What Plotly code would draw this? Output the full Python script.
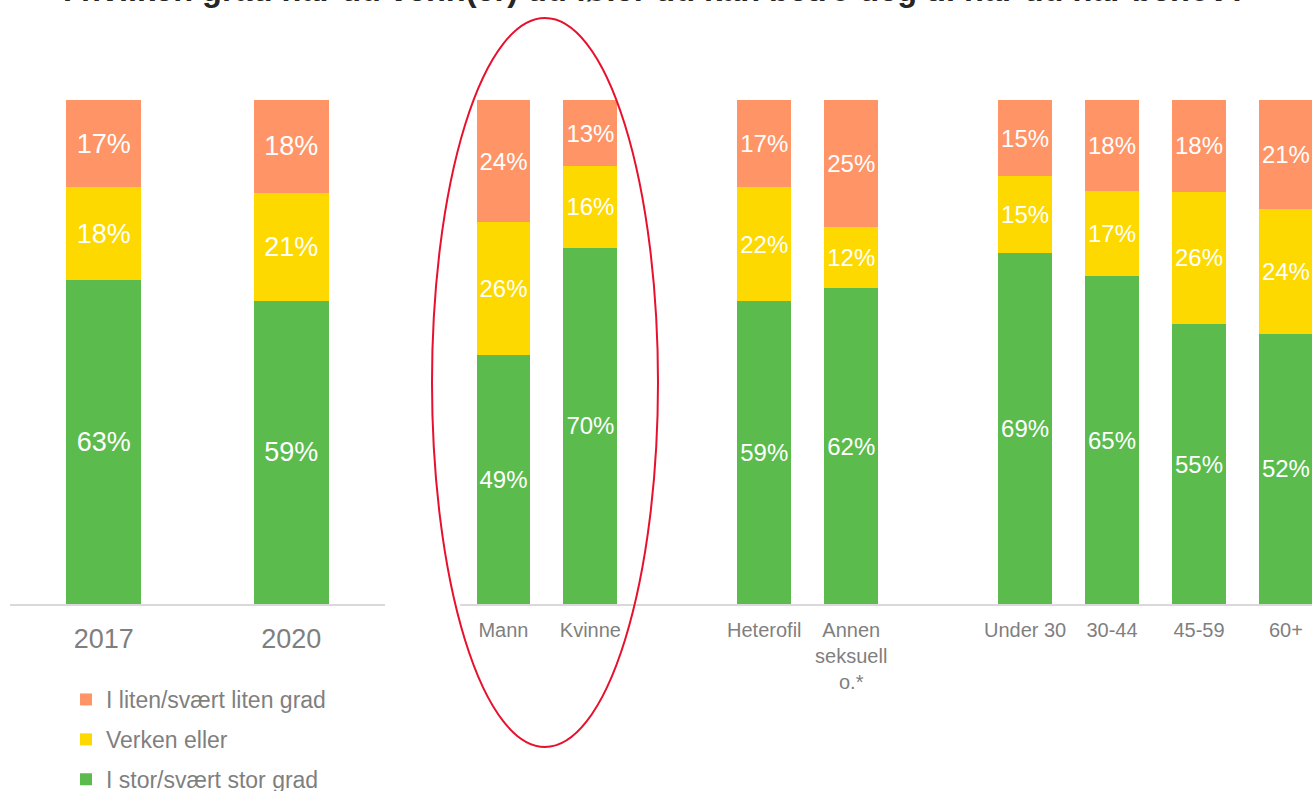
import plotly.graph_objects as go

# ---- data ----
title_text = "I hvilken grad har du venn(er) du føler du kan betro deg til når du har behov?"
series_names = ["I stor/svært stor grad", "Verken eller", "I liten/svært liten grad"]
series_colors = ["#5BBB4D", "#FDD900", "#FF9466"]
legend_ranks = [3, 2, 1]

years = ["2017", "2020"]
years_stor = [63, 59]
years_verken = [18, 21]
years_liten = [17, 18]

groups = ["Mann", "Kvinne", "Heterofil", "Annen<br>seksuell<br>o.*",
          "Under 30", "30-44", "45-59", "60+"]
groups_stor = [49, 70, 59, 62, 69, 65, 55, 52]
groups_verken = [26, 16, 22, 12, 15, 17, 26, 24]
groups_liten = [24, 13, 17, 25, 15, 18, 18, 21]

# category order for second panel, with empty spacer slots between groups
spacer1 = "gap1"
spacer2 = "gap2"
groups_order = ["Mann", "Kvinne", spacer1, "Heterofil", "Annen<br>seksuell<br>o.*",
                spacer2, "Under 30", "30-44", "45-59", "60+"]

W, H = 1312, 791
TOP, BOTTOM = 100, 604
PH = BOTTOM - TOP

fig = go.Figure()

panel1 = [years_stor, years_verken, years_liten]
panel2 = [groups_stor, groups_verken, groups_liten]

for i, name in enumerate(series_names):
    fig.add_trace(go.Bar(
        x=years, y=panel1[i], name=name, legendgroup=name, showlegend=True,
        legendrank=legend_ranks[i],
        marker=dict(color=series_colors[i], line=dict(width=0)),
        width=0.4, xaxis="x", yaxis="y",
        text=[f"{v}%" for v in panel1[i]], textposition="inside",
        insidetextanchor="middle", textangle=0, constraintext="none",
        textfont=dict(color="white", size=27, family="Liberation Sans"),
        hoverinfo="skip",
    ))
    fig.add_trace(go.Bar(
        x=groups, y=panel2[i], name=name, legendgroup=name, showlegend=False,
        legendrank=legend_ranks[i],
        marker=dict(color=series_colors[i], line=dict(width=0)),
        width=0.62, xaxis="x2", yaxis="y",
        text=[f"{v}%" for v in panel2[i]], textposition="inside",
        insidetextanchor="middle", textangle=0, constraintext="none",
        textfont=dict(color="white", size=24, family="Liberation Sans"),
        hoverinfo="skip",
    ))

fig.update_layout(
    width=W, height=H,
    margin=dict(l=0, r=0, t=TOP, b=H - BOTTOM, pad=0, autoexpand=False),
    paper_bgcolor="white", plot_bgcolor="white",
    barmode="stack", barnorm="percent",
    font=dict(family="Liberation Sans", color="#7F7F7F"),
    xaxis=dict(
        domain=[10 / W, 385 / W], type="category", categoryorder="array",
        categoryarray=years, showline=True, linecolor="#D9D9D9", linewidth=1.5,
        showgrid=False, zeroline=False, ticks="", ticklabelstandoff=10,
        tickfont=dict(size=27, color="#7F7F7F"), anchor="y", fixedrange=True,
    ),
    xaxis2=dict(
        domain=[460 / W, 1.0], type="category", categoryorder="array",
        categoryarray=groups_order, range=[-0.5, 9.3],
        tickmode="array", tickvals=groups, ticktext=groups,
        showline=True, linecolor="#D9D9D9", linewidth=1.5,
        showgrid=False, zeroline=False, ticks="", ticklabelstandoff=7,
        tickfont=dict(size=20, color="#7F7F7F"), anchor="y", fixedrange=True,
    ),
    yaxis=dict(range=[0, 100], visible=False, fixedrange=True, domain=[0, 1]),
    legend=dict(
        orientation="v", traceorder="grouped", tracegroupgap=7,
        x=66 / W, xanchor="left", y=-(678 - BOTTOM) / PH, yanchor="top",
        font=dict(size=23, color="#7F7F7F"), bgcolor="rgba(0,0,0,0)",
    ),
    showlegend=True,
)

fig.add_annotation(
    text=f"<b>{title_text}</b>", xref="paper", yref="paper",
    x=655 / W, xanchor="center", y=1 + (TOP - 10) / PH, yanchor="bottom",
    showarrow=False, font=dict(size=32.5, color="#262626", family="Liberation Sans"),
)

fig.add_shape(
    type="circle", xref="paper", yref="paper",
    x0=432 / W, x1=658 / W, y0=-(747 - BOTTOM) / PH, y1=(BOTTOM - 18) / PH,
    line=dict(color="#E8112D", width=2), layer="above",
)

fig.write_html(
    "out.html",
    config={"displayModeBar": False},
    post_script="document.body.style.margin='0';document.body.style.overflow='hidden';",
)
